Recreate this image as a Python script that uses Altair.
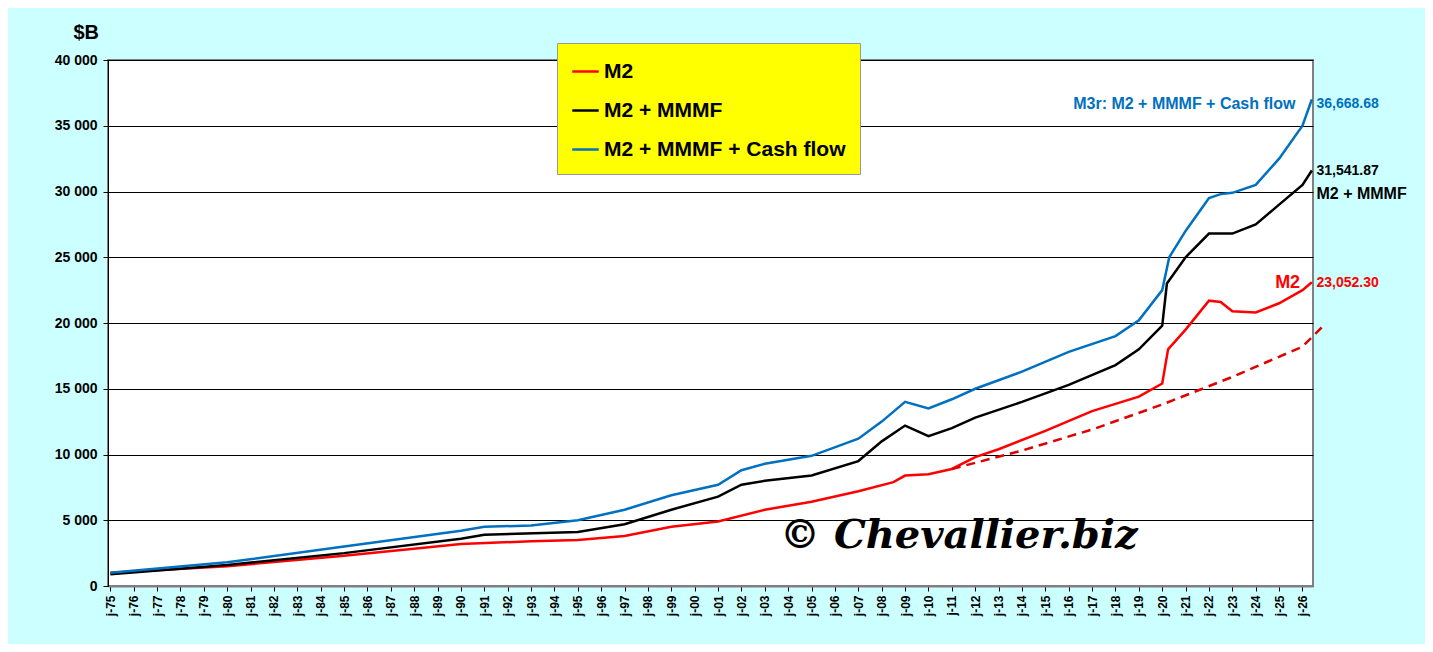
import altair as alt
import pandas as pd

# M3r: M2 + MMMF + Cash flow
blue_years = [1975, 1980, 1985, 1990, 1991, 1993, 1995, 1997, 1999, 2001, 2002, 2003, 2005, 2007, 2008,
              2009, 2010, 2011, 2012, 2014, 2016, 2018, 2019, 2020, 2020.3, 2021, 2022, 2022.5, 2023,
              2024, 2025, 2026, 2026.4]
blue_vals = [1000, 1800, 3000, 4200, 4500, 4600, 5000, 5800, 6900, 7700, 8800, 9300, 9900, 11200, 12500,
             14000, 13500, 14200, 15000, 16300, 17800, 19000, 20200, 22500, 25000, 27000, 29500, 29800, 29900,
             30500, 32500, 35000, 37000]
# M2 + MMMF
black_years = [1975, 1980, 1985, 1990, 1991, 1995, 1997, 1999, 2001, 2002, 2003, 2005, 2007, 2008, 2009,
               2010, 2011, 2012, 2014, 2016, 2018, 2019, 2020, 2020.2, 2021, 2022, 2023, 2024, 2025, 2026, 2026.4]
black_vals = [900, 1600, 2500, 3600, 3900, 4100, 4700, 5800, 6800, 7700, 8000, 8400, 9500, 11000, 12200,
              11400, 12000, 12800, 14000, 15300, 16800, 18000, 19800, 23000, 25000, 26800, 26800, 27500,
              29000, 30500, 31600]
# M2
red_years = [1975, 1980, 1985, 1990, 1993, 1995, 1997, 1999, 2001, 2003, 2005, 2007, 2008.5, 2009, 2010,
             2011, 2012, 2013, 2015, 2017, 2019, 2020, 2020.25, 2021, 2022, 2022.5, 2023, 2024, 2025, 2026, 2026.4]
red_vals = [1000, 1500, 2300, 3200, 3400, 3500, 3800, 4500, 4900, 5800, 6400, 7200, 7900, 8400, 8500,
            8900, 9800, 10400, 11800, 13300, 14400, 15400, 18000, 19500, 21700, 21600, 20900, 20800,
            21500, 22500, 23100]
# trend
trend_years = [2011, 2014, 2017, 2020, 2023, 2026, 2026.9]
trend_vals = [8900, 10300, 11900, 13800, 15900, 18200, 19800]

names = ['M2', 'M2 + MMMF', 'M2 + MMMF + Cash flow']
colors = ['#FF0000', '#000000', '#0070C0']

rows = []
for n, ys, vs in zip(names, [red_years, black_years, blue_years], [red_vals, black_vals, blue_vals]):
    for y, v in zip(ys, vs):
        rows.append({'year': y, 'value': v, 'series': n})
df = pd.DataFrame(rows)
trend = pd.DataFrame({'year': trend_years, 'value': trend_vals})

FONT = 'Liberation Sans'
x = alt.X('year:Q', scale=alt.Scale(domain=[1974.9, 2026.45], nice=False), axis=alt.Axis(
    values=list(range(1975, 2027)), labelExpr="'j-' + slice('0' + (datum.value % 100), -2)",
    labelAngle=-90, labelFont=FONT, labelFontWeight='bold', labelFontSize=12, labelColor='black',
    labelOverlap=False, labelPadding=4,
    grid=False, domainColor='#808080', domainWidth=2, tickColor='black', title=None))
y = alt.Y('value:Q', scale=alt.Scale(domain=[0, 40000]), axis=alt.Axis(
    values=list(range(0, 40001, 5000)), labelExpr="replace(format(datum.value, ','), ',', ' ')",
    labelFont=FONT, labelFontWeight='bold', labelFontSize=14, labelColor='black', labelPadding=6,
    gridColor='black', domainColor='black', tickColor='black', title='$B', titleAngle=0,
    titleFont=FONT, titleFontSize=20, titleFontWeight='bold', titleX=-35, titleY=-18,
    titleAlign='left', titleColor='black'))

lines = alt.Chart(df).mark_line(strokeWidth=2.5, clip=True).encode(
    x=x, y=y,
    color=alt.Color('series:N', scale=alt.Scale(domain=names, range=colors), legend=alt.Legend(
        title=None, orient='none', legendX=449, legendY=-17, fillColor='#FFFF00', strokeColor='#999999',
        padding=14, rowPadding=14, symbolType='stroke', symbolStrokeWidth=2.5, symbolSize=700,
        labelFont=FONT, labelFontSize=21, labelFontWeight='bold', labelColor='black', labelLimit=0,
        offset=0)))

dashed = alt.Chart(trend).mark_line(color='#E00000', strokeWidth=2.5, strokeDash=[9, 6], clip=False).encode(
    x=x, y=y)

ann = pd.DataFrame({
    'year': [2026.6, 2025.7, 2026.6, 2026.6, 2025.9, 2026.6],
    'value': [36668, 36668, 31541, 29800, 23052, 23052],
    'text': ['36,668.68', 'M3r: M2 + MMMF + Cash flow', '31,541.87', 'M2 + MMMF', 'M2', '23,052.30'],
    'align': ['left', 'right', 'left', 'left', 'right', 'left'],
    'color': ['#0070C0', '#0070C0', '#000000', '#000000', '#FF0000', '#FF0000'],
    'size': [14, 16, 14, 16, 18, 14],
})
labels = []
for al in ['left', 'right']:
    labels.append(alt.Chart(ann[ann['align'] == al]).mark_text(
        align=al, font=FONT, fontWeight='bold', clip=False).encode(
        x=x, y=y, text='text:N',
        size=alt.Size('size:Q', scale=None, legend=None),
        color=alt.Color('color:N', scale=None)))

wm = alt.Chart(pd.DataFrame({'year': [2011.3], 'value': [3800], 't': ['© Chevallier.biz']})).mark_text(
    font='DejaVu Serif', fontStyle='italic', fontWeight='bold', fontSize=40, color='black').encode(
    x=x, y=y, text='t:N')

chart = alt.layer(lines, dashed, *labels, wm).properties(
    width=1205, height=526, background='#CCFFFF',
    autosize=alt.AutoSizeParams(type='none'),
    padding={'left': 100, 'top': 52, 'right': 112, 'bottom': 58},
).configure_view(stroke='#808080', strokeWidth=2, fill='white').configure_axisX(labelOverlap=False)

chart.save("out.html", embed_options={"renderer": "svg", "actions": False})
